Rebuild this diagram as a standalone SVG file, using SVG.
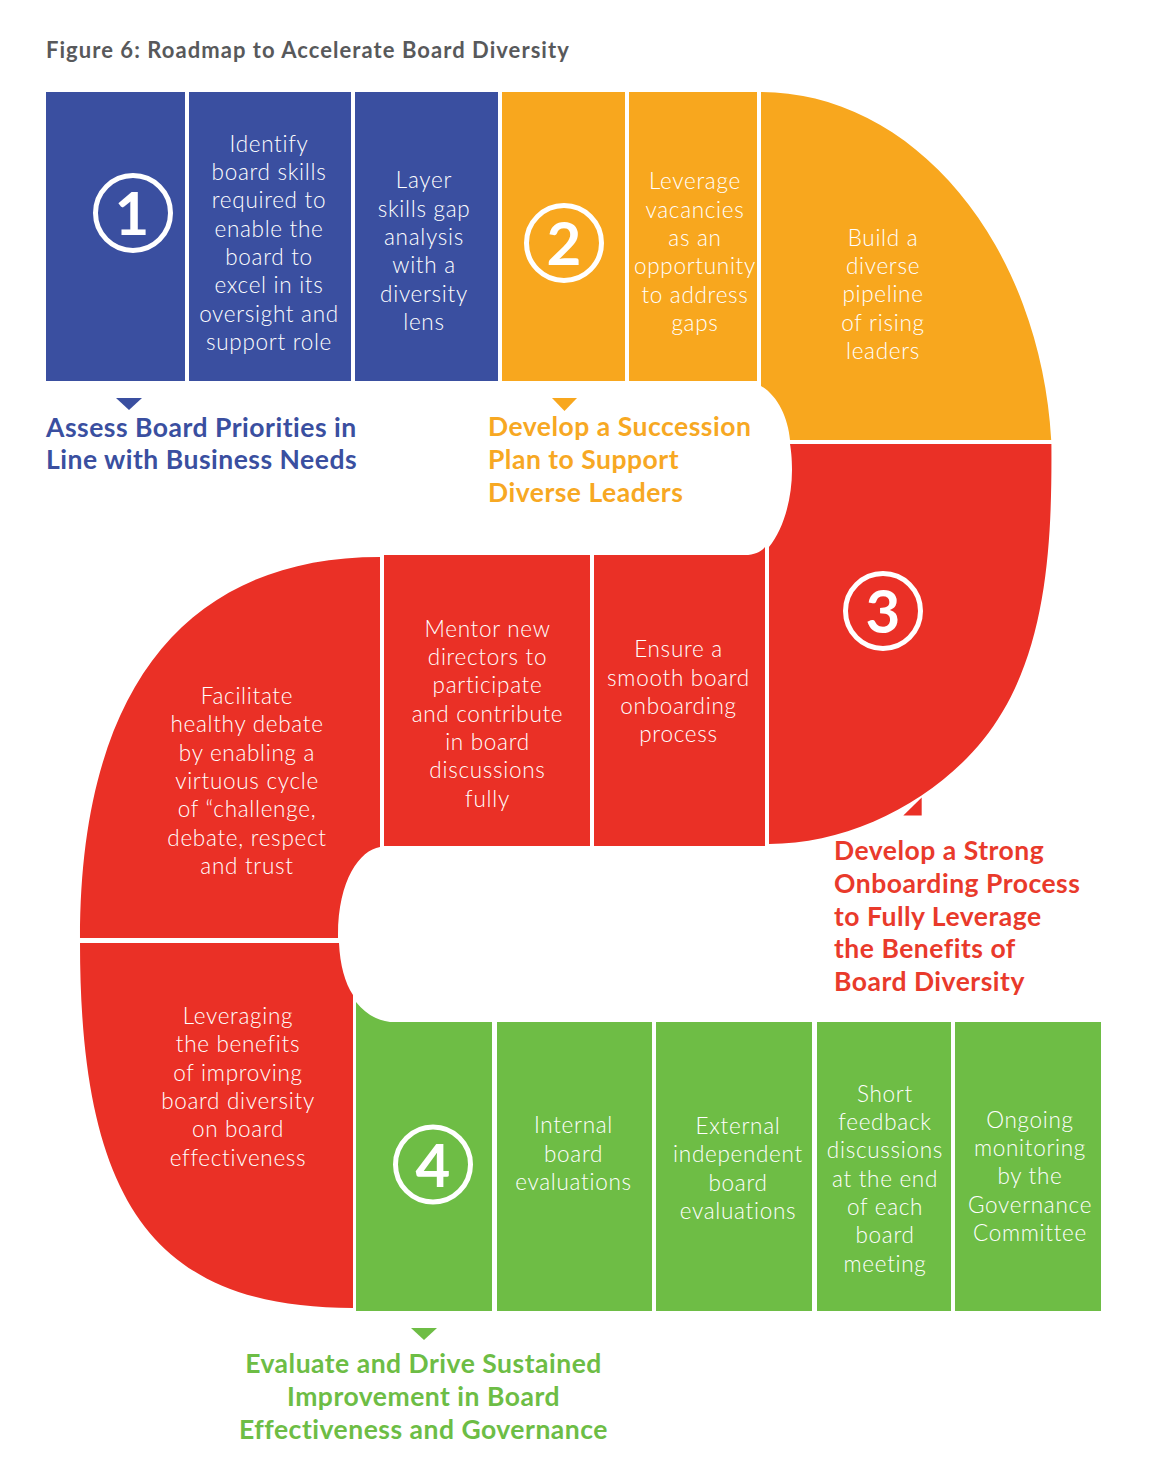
<svg xmlns="http://www.w3.org/2000/svg" width="1152" height="1484" viewBox="0 0 1152 1484">
<style>
.blue{fill:#3A4FA0}.orange{fill:#F8A71E}.red{fill:#EA3026}.green{fill:#6EBD45}
.body{font-family:Lato,"Noto Sans",sans-serif;font-weight:300;font-size:22.5px;letter-spacing:0.7px;fill:#fff;text-anchor:middle}
.head{font-family:Lato,"Noto Sans",sans-serif;font-weight:700;font-size:26.5px;letter-spacing:0.5px}
.num{font-family:Lato,"Noto Sans",sans-serif;font-weight:700;font-size:60px;fill:#fff;text-anchor:middle}
.ring{fill:none;stroke:#fff;stroke-width:5}
.title{font-family:Lato,"Noto Sans",sans-serif;font-weight:700;font-size:22px;letter-spacing:1.05px;fill:#58595B}
</style>
<rect width="1152" height="1484" fill="#fff"/>
<text class="title" x="46" y="58">Figure 6: Roadmap to Accelerate Board Diversity</text>

<g id="stage1">
  <g id="s1-badge"><rect class="blue" x="46" y="92" width="139" height="289"/><circle class="ring" cx="133" cy="213" r="37.5"/><text class="num" x="132" y="235">1</text></g>
  <g id="s1-identify"><rect class="blue" x="189" y="92" width="162" height="289"/>
    <text class="body" x="269" y="151.7"><tspan x="269">Identify</tspan><tspan x="269" dy="28.3">board skills</tspan><tspan x="269" dy="28.3">required to</tspan><tspan x="269" dy="28.3">enable the</tspan><tspan x="269" dy="28.3">board to</tspan><tspan x="269" dy="28.3">excel in its</tspan><tspan x="269" dy="28.3">oversight and</tspan><tspan x="269" dy="28.3">support role</tspan></text></g>
  <g id="s1-layer"><rect class="blue" x="355" y="92" width="143" height="289"/>
    <text class="body" x="424" y="188.3"><tspan x="424">Layer</tspan><tspan x="424" dy="28.3">skills gap</tspan><tspan x="424" dy="28.3">analysis</tspan><tspan x="424" dy="28.3">with a</tspan><tspan x="424" dy="28.3">diversity</tspan><tspan x="424" dy="28.3">lens</tspan></text></g>
  <text id="s1-label" class="head" fill="#3A4FA0" x="46" y="436.7"><tspan x="46">Assess Board Priorities in</tspan><tspan x="46" dy="32.7">Line with Business Needs</tspan></text>
</g>

<g id="stage2">
  <g id="s2-badge"><rect class="orange" x="502" y="92" width="123" height="289"/><circle class="ring" cx="564" cy="243" r="37.5"/><text class="num" x="564" y="265">2</text></g>
  <g id="s2-leverage"><rect class="orange" x="629" y="92" width="128" height="289"/>
    <text class="body" x="695" y="189.3"><tspan x="695">Leverage</tspan><tspan x="695" dy="28.3">vacancies</tspan><tspan x="695" dy="28.3">as an</tspan><tspan x="695" dy="28.3">opportunity</tspan><tspan x="695" dy="28.3">to address</tspan><tspan x="695" dy="28.3">gaps</tspan></text></g>
  <g id="s2-build"><path class="orange" d="M761,92 A291,376 0 0 1 1051.2,440 H790 C788,418 778,396 761,386 Z"/>
    <text class="body" x="883" y="245.7"><tspan x="883">Build a</tspan><tspan x="883" dy="28.3">diverse</tspan><tspan x="883" dy="28.3">pipeline</tspan><tspan x="883" dy="28.3">of rising</tspan><tspan x="883" dy="28.3">leaders</tspan></text></g>
  <text id="s2-label" class="head" fill="#F7A823" x="488" y="436"><tspan x="488">Develop a Succession</tspan><tspan x="488" dy="32.8">Plan to Support</tspan><tspan x="488" dy="32.8">Diverse Leaders</tspan></text>
</g>

<g id="stage3">
  <g id="s3-badge"><path class="red" d="M769,547 C783,530 792,500 792,470 C792,458 791,450 790,444 H1051.4 C1052,543 1048,660 983,740 C933,802 849,844 769,844 Z"/><circle class="ring" cx="883" cy="611" r="37.5"/><text class="num" x="883" y="633">3</text></g>
  <g id="s3-ensure"><path class="red" d="M594,555 H745 C755,555 762,551 765,547 V846 H594 Z"/>
    <text class="body" x="678.5" y="657.3"><tspan x="678.5">Ensure a</tspan><tspan x="678.5" dy="28.3">smooth board</tspan><tspan x="678.5" dy="28.3">onboarding</tspan><tspan x="678.5" dy="28.3">process</tspan></text></g>
  <g id="s3-mentor"><rect class="red" x="384" y="555" width="206" height="291"/>
    <text class="body" x="487.5" y="636.7"><tspan x="487.5">Mentor new</tspan><tspan x="487.5" dy="28.3">directors to</tspan><tspan x="487.5" dy="28.3">participate</tspan><tspan x="487.5" dy="28.3">and contribute</tspan><tspan x="487.5" dy="28.3">in board</tspan><tspan x="487.5" dy="28.3">discussions</tspan><tspan x="487.5" dy="28.3">fully</tspan></text></g>
  <g id="s3-facilitate"><path class="red" d="M380,557 V847 C360,850 338,880 338,935 V938 H80 C80,690.4 185,557 380,557 Z"/>
    <text class="body" x="247" y="704"><tspan x="247">Facilitate</tspan><tspan x="247" dy="28.3">healthy debate</tspan><tspan x="247" dy="28.3">by enabling a</tspan><tspan x="247" dy="28.3">virtuous cycle</tspan><tspan x="247" dy="28.3">of “challenge,</tspan><tspan x="247" dy="28.3">debate, respect</tspan><tspan x="247" dy="28.3">and trust</tspan></text></g>
  <g id="s3-leveraging"><path class="red" d="M80,943 H339 C340,965 345,983 353,995 V1308 C156.4,1308 80,1205.5 80,943 Z"/>
    <text class="body" x="238" y="1024"><tspan x="238">Leveraging</tspan><tspan x="238" dy="28.3">the benefits</tspan><tspan x="238" dy="28.3">of improving</tspan><tspan x="238" dy="28.3">board diversity</tspan><tspan x="238" dy="28.3">on board</tspan><tspan x="238" dy="28.3">effectiveness</tspan></text></g>
  <text id="s3-label" class="head" fill="#E93A2B" x="834" y="860"><tspan x="834">Develop a Strong</tspan><tspan x="834" dy="32.75">Onboarding Process</tspan><tspan x="834" dy="32.75">to Fully Leverage</tspan><tspan x="834" dy="32.75">the Benefits of</tspan><tspan x="834" dy="32.75">Board Diversity</tspan></text>
</g>

<g id="stage4">
  <g id="s4-badge"><path class="green" d="M356,1002 C365,1013 375,1020 390,1022 H492 V1311 H356 Z"/><circle class="ring" cx="433" cy="1164.5" r="37.5"/><text class="num" x="433" y="1186.5">4</text></g>
  <g id="s4-internal"><rect class="green" x="497" y="1022" width="155" height="289"/>
    <text class="body" x="573.5" y="1133.3"><tspan x="573.5">Internal</tspan><tspan x="573.5" dy="28.3">board</tspan><tspan x="573.5" dy="28.3">evaluations</tspan></text></g>
  <g id="s4-external"><rect class="green" x="656" y="1022" width="156" height="289"/>
    <text class="body" x="738" y="1134"><tspan x="738">External</tspan><tspan x="738" dy="28.3">independent</tspan><tspan x="738" dy="28.3">board</tspan><tspan x="738" dy="28.3">evaluations</tspan></text></g>
  <g id="s4-short"><rect class="green" x="817" y="1022" width="134" height="289"/>
    <text class="body" x="885" y="1101.7"><tspan x="885">Short</tspan><tspan x="885" dy="28.3">feedback</tspan><tspan x="885" dy="28.3">discussions</tspan><tspan x="885" dy="28.3">at the end</tspan><tspan x="885" dy="28.3">of each</tspan><tspan x="885" dy="28.3">board</tspan><tspan x="885" dy="28.3">meeting</tspan></text></g>
  <g id="s4-ongoing"><rect class="green" x="955" y="1022" width="146" height="289"/>
    <text class="body" x="1030" y="1127.7"><tspan x="1030">Ongoing</tspan><tspan x="1030" dy="28.3">monitoring</tspan><tspan x="1030" dy="28.3">by the</tspan><tspan x="1030" dy="28.3">Governance</tspan><tspan x="1030" dy="28.3">Committee</tspan></text></g>
  <text id="s4-label" class="head" fill="#6DBD45" text-anchor="middle" x="423.5" y="1373.3"><tspan x="423.5">Evaluate and Drive Sustained</tspan><tspan x="423.5" dy="33">Improvement in Board</tspan><tspan x="423.5" dy="33">Effectiveness and Governance</tspan></text>
</g>

<g id="connectors">
  <polygon class="blue" points="116,398 142,398 129,410"/>
  <polygon class="orange" points="552,398 577,398 564.5,411"/>
  <polygon class="red" points="903.3,815.5 921.7,815.5 921.7,797.5"/>
  <polygon class="green" points="411,1328 437,1328 424,1340"/>
</g>
</svg>
